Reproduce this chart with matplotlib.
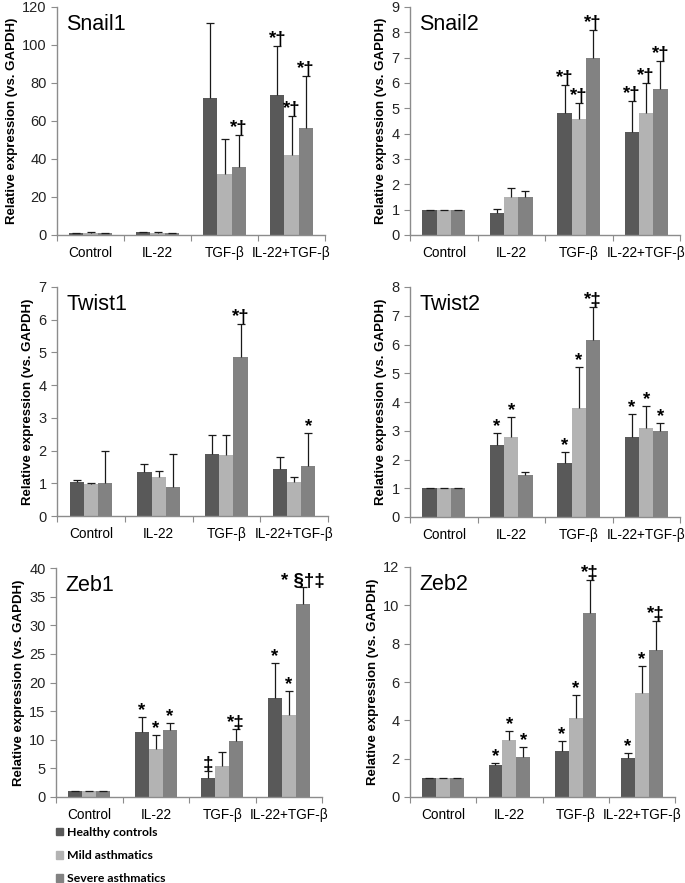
import matplotlib
matplotlib.use("Agg")
import matplotlib.pyplot as plt
import numpy as np
from matplotlib.patches import Patch

# Data
categories = ['Control', 'IL-22', 'TGF-β', 'IL-22+TGF-β']
groups = ['Healthy controls', 'Mild asthmatics', 'Severe asthmatics']
colors = ['#595959', '#b3b3b3', '#828282']

genes = ['Snail1', 'Snail2', 'Twist1', 'Twist2', 'Zeb1', 'Zeb2']
y_max = [120, 9, 7, 8, 40, 12]
y_step = [20, 1, 1, 1, 5, 2]

# means per gene: rows = groups (healthy, mild, severe), cols = categories
snail1_mean = [[1.0, 1.5, 72.0, 73.5], [1.0, 1.2, 32.0, 42.0], [1.0, 1.0, 36.0, 56.5]]
snail1_top = [[1.2, 1.8, 111.5, 99.5], [1.4, 1.5, 50.5, 62.5], [1.2, 1.3, 52.5, 83.5]]
snail2_mean = [[1.0, 0.87, 4.83, 4.08], [1.0, 1.5, 4.58, 4.8], [1.0, 1.5, 7.0, 5.75]]
snail2_top = [[1.0, 1.02, 5.93, 5.28], [1.0, 1.85, 5.2, 6.0], [1.0, 1.75, 8.1, 6.88]]
twist1_mean = [[1.05, 1.35, 1.9, 1.45], [0.98, 1.18, 1.87, 1.03], [1.0, 0.9, 4.85, 1.52]]
twist1_top = [[1.1, 1.6, 2.47, 1.8], [1.0, 1.38, 2.47, 1.2], [2.0, 1.9, 5.87, 2.53]]
twist2_mean = [[1.0, 2.5, 1.88, 2.8], [1.0, 2.8, 3.78, 3.08], [1.0, 1.45, 6.15, 3.0]]
twist2_top = [[1.0, 2.92, 2.25, 3.6], [1.0, 3.47, 5.23, 3.86], [1.0, 1.58, 7.3, 3.26]]
zeb1_mean = [[1.0, 11.3, 3.4, 17.3], [1.0, 8.3, 5.5, 14.3], [1.0, 11.7, 9.8, 33.7]]
zeb1_top = [[1.0, 13.9, 4.6, 23.4], [1.0, 10.8, 7.9, 18.6], [1.0, 13.0, 11.8, 36.6]]
zeb2_mean = [[1.0, 1.67, 2.42, 2.05], [1.0, 3.0, 4.12, 5.42], [1.0, 2.1, 9.6, 7.65]]
zeb2_top = [[1.0, 1.78, 2.9, 2.32], [1.0, 3.44, 5.3, 6.83], [1.0, 2.62, 11.32, 9.17]]

# significance marks, same layout as means
snail1_sig = [['', '', '', '*†'], ['', '', '', '*†'], ['', '', '*†', '*†']]
snail2_sig = [['', '', '*†', '*†'], ['', '', '*†', '*†'], ['', '', '*†', '*†']]
twist1_sig = [['', '', '', ''], ['', '', '', ''], ['', '', '*†', '*']]
twist2_sig = [['', '*', '*', '*'], ['', '*', '*', '*'], ['', '', '*‡', '*']]
zeb1_sig = [['', '*', '‡', '*'], ['', '*', '', '*'], ['', '*', '*‡', '* §†‡']]
zeb2_sig = [['', '*', '*', '*'], ['', '*', '*', '*'], ['', '*', '*‡', '*‡']]

means = [snail1_mean, snail2_mean, twist1_mean, twist2_mean, zeb1_mean, zeb2_mean]
tops = [snail1_top, snail2_top, twist1_top, twist2_top, zeb1_top, zeb2_top]
sigs = [snail1_sig, snail2_sig, twist1_sig, twist2_sig, zeb1_sig, zeb2_sig]

plt.rcParams['font.family'] = ['Liberation Sans', 'DejaVu Sans']

# axes boxes in pixels: left, right, top, bottom
boxes = [(57, 325, 7, 235), (410, 680, 7, 235),
         (57, 328, 287, 516), (410, 680, 287, 517),
         (56, 322, 568, 797), (410, 675, 567, 797)]

W, H = 685, 883
fig = plt.figure(figsize=(W / 100, H / 100), dpi=100)

bar_w = 0.21
offsets = [-bar_w, 0, bar_w]
x = np.arange(len(categories))
axis_gray = '#8c8c8c'

for i, gene in enumerate(genes):
    l, r, t, b = boxes[i]
    ax = fig.add_axes([l / W, 1 - b / H, (r - l) / W, (b - t) / H])
    for g in range(3):
        xs = x + offsets[g]
        m = np.array(means[i][g])
        tp = np.array(tops[i][g])
        ax.bar(xs, m, width=bar_w, color=colors[g], zorder=2)
        ax.vlines(xs, m, tp, color='#1a1a1a', lw=0.9, zorder=3)
        ax.plot(xs, tp, ls='none', marker='_', ms=6, mew=0.9,
                color='#1a1a1a', zorder=3)
        for k in range(len(categories)):
            s = sigs[i][g][k]
            if s:
                ax.annotate(s, (xs[k], tp[k]), xytext=(0, -1.5),
                            textcoords='offset points', ha='center',
                            va='bottom', fontsize=13.5, fontweight='bold',
                            annotation_clip=False, zorder=4)

    ax.set_xlim(-0.5, len(categories) - 0.5)
    ax.set_ylim(0, y_max[i])
    ax.set_yticks(np.arange(0, y_max[i] + 0.01, y_step[i]))
    ax.set_xticks(np.arange(len(categories) + 1) - 0.5)
    ax.set_xticklabels([])
    ax.set_xticks(x, minor=True)
    ax.set_xticklabels(categories, minor=True, fontsize=9.8)
    ax.tick_params(axis='x', which='minor', length=0, pad=8)
    ax.tick_params(axis='both', which='major', direction='out', length=4,
                   color=axis_gray, labelsize=10.5, labelcolor='#222222')
    for side in ['top', 'right']:
        ax.spines[side].set_visible(False)
    for side in ['left', 'bottom']:
        ax.spines[side].set_color(axis_gray)
        ax.spines[side].set_linewidth(1.0)
    ax.set_ylabel('Relative expression (vs. GAPDH)', fontsize=9.5,
                  fontweight='bold', labelpad=3)
    ax.text(0.035, 0.97, gene, transform=ax.transAxes, fontsize=15.5,
            va='top', ha='left')

handles = [Patch(color=c) for c in colors]
fig.legend(handles, groups, loc='upper left',
           bbox_to_anchor=(51 / W, 1 - 822 / H), frameon=False,
           handlelength=0.6, handleheight=0.6, handletextpad=0.3,
           labelspacing=1.0, borderaxespad=0,
           prop={'family': 'Lato', 'weight': 'bold', 'size': 8.8})

fig.savefig('out.png', dpi=100)
